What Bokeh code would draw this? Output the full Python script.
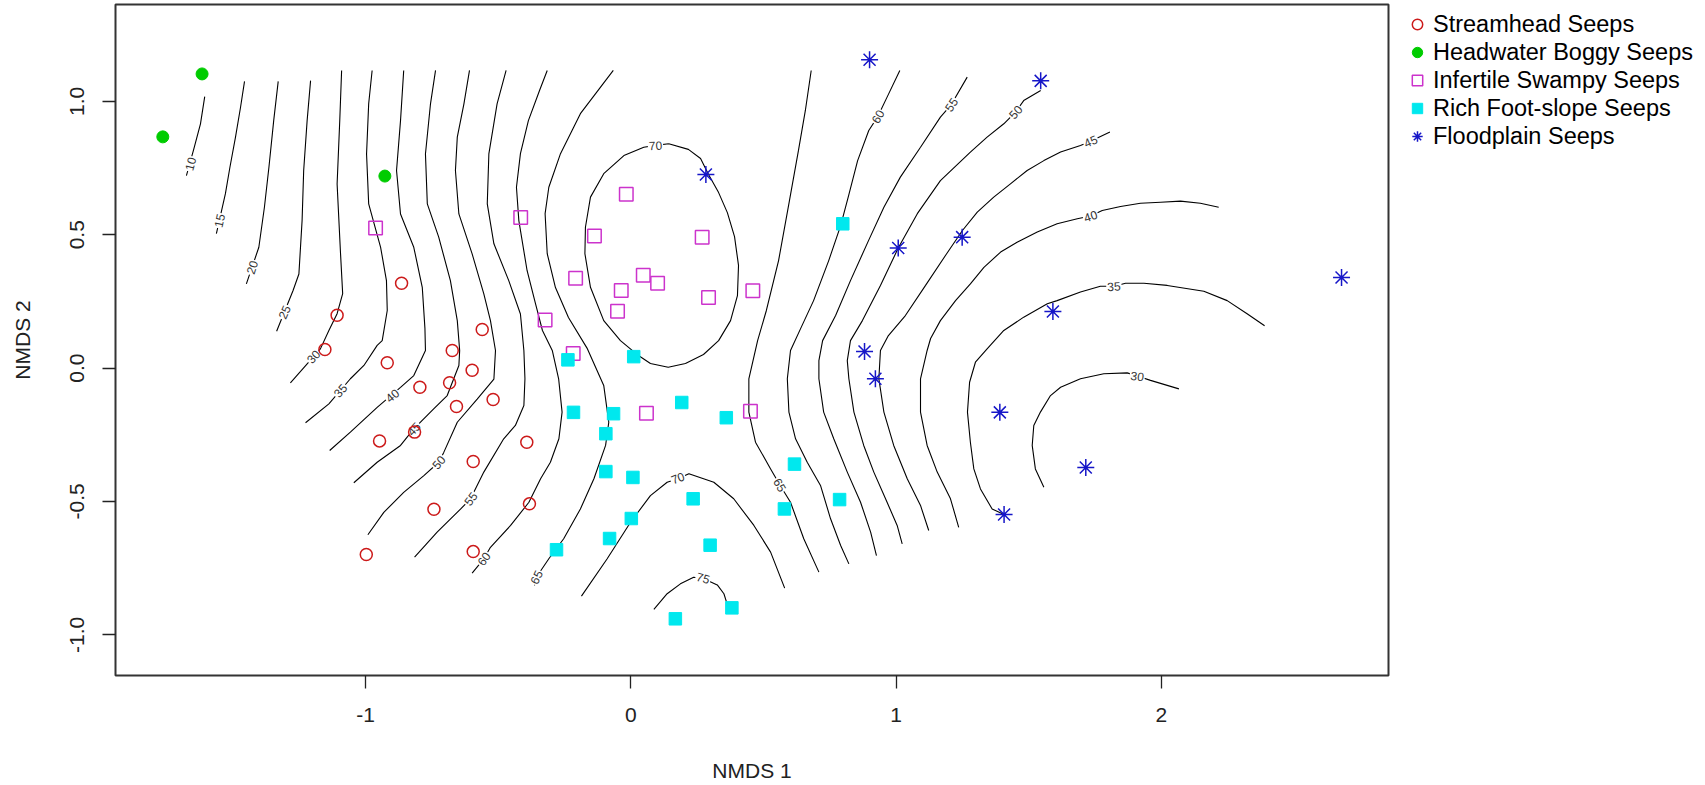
from bokeh.plotting import figure
from bokeh.models import Range1d, FixedTicker, Legend, LegendItem
from bokeh.layouts import row
from bokeh.embed import file_html
from bokeh.resources import INLINE
from bokeh.core.properties import value

# ---------------- site scores (NMDS 1, NMDS 2) ----------------
streamhead_x = [-1.107, -0.864, -1.153, -0.560, -0.918, -0.673, -0.598, -0.795, -0.683, -0.657,
                -0.519, -0.947, -0.815, -0.594, -0.392, -0.742, -0.382, -0.997, -0.594]
streamhead_y = [0.198, 0.318, 0.070, 0.145, 0.020, 0.066, -0.008, -0.072, -0.055, -0.144,
                -0.118, -0.273, -0.240, -0.350, -0.278, -0.529, -0.509, -0.699, -0.688]

headwater_x = [-1.616, -1.764, -0.927]
headwater_y = [1.103, 0.867, 0.720]

infertile_x = [-0.962, -0.415, -0.017, -0.137, 0.269, -0.208, 0.047, 0.101, -0.036, 0.293,
               0.460, -0.050, -0.323, -0.217, 0.059, 0.451]
infertile_y = [0.525, 0.565, 0.652, 0.495, 0.491, 0.337, 0.348, 0.318, 0.291, 0.265,
               0.290, 0.213, 0.180, 0.055, -0.169, -0.162]

rich_x = [0.799, -0.237, 0.011, -0.216, -0.065, 0.192, 0.360, -0.094, 0.617, -0.094,
          0.008, 0.235, 0.787, 0.579, 0.002, -0.080, -0.280, 0.299, 0.381, 0.168]
rich_y = [0.541, 0.031, 0.043, -0.166, -0.171, -0.129, -0.186, -0.246, -0.360, -0.388,
          -0.410, -0.490, -0.493, -0.528, -0.564, -0.639, -0.681, -0.664, -0.899, -0.940]

flood_x = [0.900, 1.545, 0.283, 1.008, 1.249, 2.679, 1.591, 0.881, 0.922, 1.391, 1.715, 1.407]
flood_y = [1.156, 1.077, 0.726, 0.450, 0.491, 0.340, 0.212, 0.062, -0.040, -0.166, -0.373, -0.549]

legend_labels = ["Streamhead Seeps", "Headwater Boggy Seeps", "Infertile Swampy Seeps",
                 "Rich Foot-slope Seeps", "Floodplain Seeps"]

# ---------------- fitted surface contours (traced) ----------------
c10_x = [-1.606, -1.622, -1.647, -1.675]
c10_y = [1.018, 0.916, 0.822, 0.722]
c15_x = [-1.456, -1.471, -1.490, -1.511, -1.528, -1.562]
c15_y = [1.075, 0.978, 0.866, 0.753, 0.654, 0.504]
c20_x = [-1.329, -1.346, -1.364, -1.381, -1.402, -1.449]
c20_y = [1.075, 0.928, 0.753, 0.603, 0.453, 0.316]
c25_x = [-1.207, -1.220, -1.233, -1.239, -1.251, -1.273, -1.335]
c25_y = [1.078, 0.928, 0.741, 0.553, 0.353, 0.291, 0.138]
c30_x = [-1.090, -1.097, -1.107, -1.094, -1.086, -1.107, -1.138, -1.170, -1.283]
c30_y = [1.116, 0.928, 0.690, 0.428, 0.279, 0.204, 0.141, 0.072, -0.055]
c35_x = [-0.975, -0.988, -0.996, -0.988, -0.943, -0.921, -0.918, -0.937, -0.956, -1.006, -1.057, -1.138, -1.226]
c35_y = [1.116, 0.991, 0.803, 0.616, 0.453, 0.328, 0.216, 0.103, 0.085, 0.010, -0.040, -0.134, -0.205]
c40_x = [-0.856, -0.868, -0.883, -0.868, -0.818, -0.786, -0.776, -0.774, -0.818, -0.868, -0.956, -1.057, -1.135]
c40_y = [1.116, 0.928, 0.741, 0.578, 0.453, 0.303, 0.150, 0.066, -0.028, -0.072, -0.147, -0.240, -0.309]
c45_x = [-0.736, -0.755, -0.774, -0.767, -0.724, -0.680, -0.654, -0.645, -0.648, -0.692, -0.743, -0.818, -0.868, -0.956, -1.044]
c45_y = [1.116, 0.991, 0.803, 0.616, 0.491, 0.328, 0.178, 0.066, 0.010, -0.103, -0.153, -0.228, -0.290, -0.353, -0.430]
c50_x = [-0.608, -0.629, -0.654, -0.661, -0.648, -0.598, -0.554, -0.529, -0.510, -0.516, -0.579, -0.654, -0.705, -0.724, -0.780, -0.856, -0.931, -0.991]
c50_y = [1.116, 0.991, 0.866, 0.741, 0.578, 0.428, 0.278, 0.178, 0.066, -0.041, -0.116, -0.203, -0.316, -0.353, -0.403, -0.466, -0.541, -0.625]
c55_x = [-0.470, -0.504, -0.535, -0.541, -0.516, -0.460, -0.416, -0.403, -0.399, -0.403, -0.435, -0.479, -0.554, -0.604, -0.642, -0.730, -0.815]
c55_y = [1.116, 0.991, 0.803, 0.616, 0.466, 0.328, 0.203, 0.066, -0.040, -0.140, -0.215, -0.265, -0.390, -0.490, -0.529, -0.615, -0.709]
c60_x = [-0.315, -0.344, -0.386, -0.416, -0.431, -0.422, -0.391, -0.359, -0.333, -0.296, -0.272, -0.259, -0.271, -0.303, -0.340, -0.384, -0.453, -0.529, -0.554, -0.598]
c60_y = [1.116, 1.041, 0.928, 0.804, 0.678, 0.553, 0.366, 0.241, 0.141, 0.066, -0.040, -0.165, -0.265, -0.353, -0.415, -0.503, -0.590, -0.672, -0.715, -0.769]
c65a_x = [-0.066, -0.190, -0.265, -0.309, -0.323, -0.315, -0.284, -0.235, -0.165, -0.102, -0.083, -0.095, -0.139, -0.190, -0.253, -0.309, -0.356, -0.363]
c65a_y = [1.116, 0.954, 0.804, 0.678, 0.579, 0.429, 0.302, 0.190, 0.075, -0.065, -0.203, -0.290, -0.415, -0.528, -0.640, -0.715, -0.784, -0.815]
c70a_x = [0.143, 0.217, 0.263, 0.293, 0.331, 0.364, 0.391, 0.406, 0.402, 0.376, 0.331, 0.274, 0.206, 0.141, 0.074, 0.029,
          -0.039, -0.102, -0.152, -0.173, -0.171, -0.152, -0.102, -0.026, 0.049, 0.093, 0.143]
c70a_y = [0.841, 0.820, 0.786, 0.726, 0.658, 0.583, 0.493, 0.385, 0.272, 0.178, 0.103, 0.051, 0.017, 0.003, 0.017, 0.047,
          0.103, 0.178, 0.303, 0.429, 0.528, 0.641, 0.729, 0.797, 0.828, 0.835, 0.841]
c70b_x = [-0.186, -0.089, -0.001, 0.074, 0.137, 0.177, 0.219, 0.313, 0.388, 0.464, 0.527, 0.580]
c70b_y = [-0.855, -0.715, -0.578, -0.478, -0.428, -0.415, -0.396, -0.428, -0.490, -0.590, -0.690, -0.825]
c75_x = [0.087, 0.137, 0.187, 0.237, 0.273, 0.326, 0.351, 0.363]
c75_y = [-0.905, -0.846, -0.809, -0.784, -0.789, -0.813, -0.846, -0.884]
c65b_x = [0.680, 0.658, 0.632, 0.598, 0.557, 0.511, 0.478, 0.445, 0.445, 0.470, 0.527, 0.562, 0.602, 0.652, 0.709]
c65b_y = [1.116, 0.966, 0.816, 0.628, 0.403, 0.216, 0.103, -0.040, -0.165, -0.278, -0.378, -0.438, -0.503, -0.640, -0.765]
c60b_x = [1.014, 0.966, 0.931, 0.897, 0.855, 0.821, 0.791, 0.746, 0.689, 0.640, 0.602, 0.590, 0.596, 0.621, 0.665, 0.715, 0.753, 0.791, 0.822]
c60b_y = [1.116, 1.016, 0.943, 0.891, 0.778, 0.647, 0.534, 0.403, 0.253, 0.148, 0.066, -0.040, -0.165, -0.265, -0.353, -0.440, -0.565, -0.665, -0.734]
c55b_x = [1.268, 1.208, 1.167, 1.092, 1.016, 0.954, 0.896, 0.828, 0.772, 0.723, 0.709, 0.709, 0.727, 0.765, 0.816, 0.866, 0.904, 0.926]
c55b_y = [1.091, 0.988, 0.941, 0.828, 0.716, 0.603, 0.478, 0.328, 0.197, 0.103, 0.028, -0.040, -0.165, -0.265, -0.390, -0.503, -0.615, -0.703]
c50b_x = [1.545, 1.481, 1.450, 1.406, 1.343, 1.280, 1.167, 1.080, 1.008, 0.941, 0.873, 0.828, 0.816, 0.822, 0.841, 0.878, 0.916, 0.966, 1.004, 1.023]
c50b_y = [1.041, 1.003, 0.960, 0.916, 0.866, 0.810, 0.703, 0.579, 0.450, 0.310, 0.178, 0.103, 0.028, -0.040, -0.165, -0.290, -0.390, -0.503, -0.590, -0.659]
c45b_x = [1.806, 1.733, 1.695, 1.620, 1.557, 1.494, 1.431, 1.368, 1.306, 1.250, 1.186, 1.111, 1.035, 0.971, 0.941, 0.935, 0.954, 0.991, 1.042, 1.092, 1.123]
c45b_y = [0.885, 0.851, 0.835, 0.810, 0.778, 0.741, 0.691, 0.641, 0.585, 0.516, 0.422, 0.310, 0.197, 0.122, 0.066, -0.040, -0.165, -0.290, -0.415, -0.515, -0.609]
c40b_x = [2.216, 2.147, 2.072, 1.997, 1.921, 1.846, 1.777, 1.733, 1.683, 1.607, 1.532, 1.456, 1.394, 1.331, 1.280, 1.224, 1.167, 1.130, 1.117, 1.092, 1.092, 1.117, 1.155, 1.205, 1.236]
c40b_y = [0.603, 0.618, 0.626, 0.622, 0.618, 0.606, 0.591, 0.570, 0.560, 0.541, 0.510, 0.472, 0.435, 0.378, 0.316, 0.253, 0.178, 0.111, 0.066, -0.040, -0.165, -0.290, -0.390, -0.490, -0.597]
c35b_x = [2.389, 2.323, 2.248, 2.160, 2.022, 1.934, 1.865, 1.821, 1.770, 1.695, 1.607, 1.570, 1.481, 1.406, 1.343, 1.299, 1.277, 1.269, 1.280, 1.293, 1.318, 1.362, 1.407]
c35b_y = [0.159, 0.204, 0.253, 0.288, 0.310, 0.318, 0.318, 0.307, 0.307, 0.285, 0.253, 0.241, 0.191, 0.141, 0.072, 0.022, -0.053, -0.165, -0.278, -0.378, -0.453, -0.528, -0.549]
c30b_x = [2.066, 1.959, 1.909, 1.871, 1.783, 1.695, 1.620, 1.582, 1.544, 1.519, 1.513, 1.525, 1.557]
c30b_y = [-0.078, -0.046, -0.030, -0.018, -0.021, -0.040, -0.072, -0.103, -0.165, -0.215, -0.290, -0.378, -0.447]

contour_xs = [c10_x, c15_x, c20_x, c25_x, c30_x, c35_x, c40_x, c45_x, c50_x, c55_x, c60_x, c65a_x,
              c70a_x, c70b_x, c75_x, c65b_x, c60b_x, c55b_x, c50b_x, c45b_x, c40b_x, c35b_x, c30b_x]
contour_ys = [c10_y, c15_y, c20_y, c25_y, c30_y, c35_y, c40_y, c45_y, c50_y, c55_y, c60_y, c65a_y,
              c70a_y, c70b_y, c75_y, c65b_y, c60b_y, c55b_y, c50b_y, c45b_y, c40b_y, c35b_y, c30b_y]

# contour labels
lab_text = ["10", "15", "20", "25", "30", "35", "40", "45", "50", "55", "60", "65",
            "70", "70", "75", "65", "60", "55", "50", "45", "40", "35", "30"]
lab_x = [-1.660, -1.551, -1.428, -1.306, -1.196, -1.095, -0.899, -0.818, -0.724, -0.604, -0.554, -0.356,
         0.093, 0.177, 0.273, 0.562, 0.931, 1.208, 1.450, 1.733, 1.733, 1.821, 1.909]
lab_y = [0.766, 0.553, 0.378, 0.210, 0.043, -0.084, -0.103, -0.228, -0.353, -0.490, -0.715, -0.784,
         0.835, -0.412, -0.787, -0.438, 0.943, 0.988, 0.960, 0.851, 0.570, 0.307, -0.030]
lab_angle = [75, 77, 72, 66, 48, 49, 40, 47, 49, 53, 55, 65,
             3, 21, -16, -60, 61, 56, 49, 24, 18, 4, -8]

FONT = "Liberation Sans"

# marker styles per group
styles = [
    dict(marker="circle", size=12, fill_alpha=0, line_color="#CC1A1A", line_width=1.5),
    dict(marker="circle", size=12, fill_color="#00CC00", line_color="#00CC00"),
    dict(marker="square", size=13.5, fill_alpha=0, line_color="#CC33CC", line_width=1.5),
    dict(marker="square", size=12.5, fill_color="#00E8EE", line_color="#00E8EE"),
    dict(marker="asterisk", size=17, line_color="#1616C8", line_width=1.5),
]
groups = [(streamhead_x, streamhead_y), (headwater_x, headwater_y), (infertile_x, infertile_y),
          (rich_x, rich_y), (flood_x, flood_y)]

p = figure(width=1390, height=785,
           x_range=Range1d(-1.9423, 2.8560), y_range=Range1d(-1.1526, 1.3633),
           output_backend="svg", toolbar_location=None,
           min_border_left=115, min_border_right=2, min_border_top=4, min_border_bottom=110)
p.background_fill_color = "white"
p.border_fill_color = "white"
p.grid.visible = False
p.outline_line_color = "#333333"
p.outline_line_width = 2

# contours
p.multi_line(xs=contour_xs, ys=contour_ys, line_color="black", line_width=1.1)
p.text(x=lab_x, y=lab_y, text=lab_text, angle=lab_angle, angle_units="deg",
       text_align="center", text_baseline="middle", text_font=value(FONT),
       text_font_size="12px", text_color="#333333",
       background_fill_color="white", padding=1)

# points
for (gx, gy), st in zip(groups, styles):
    p.scatter(gx, gy, **st)

# axes
for ax in (p.xaxis[0], p.yaxis[0]):
    ax.axis_line_color = None
    ax.major_tick_in = 0
    ax.major_tick_out = 13
    ax.major_tick_line_color = "#222222"
    ax.major_tick_line_width = 1.3
    ax.minor_tick_line_color = None
    ax.major_label_text_font = FONT
    ax.major_label_text_font_size = "21px"
    ax.major_label_text_color = "#222222"
    ax.axis_label_text_font = FONT
    ax.axis_label_text_font_size = "21px"
    ax.axis_label_text_font_style = "normal"
    ax.axis_label_text_color = "#222222"

p.xaxis.ticker = FixedTicker(ticks=[-1, 0, 1, 2])
p.xaxis.major_label_overrides = {-1: "-1", 0: "0", 1: "1", 2: "2"}
p.xaxis.axis_label = "NMDS 1"
p.xaxis.major_label_standoff = 19
p.xaxis.axis_label_standoff = 34

p.yaxis.ticker = FixedTicker(ticks=[-1.0, -0.5, 0.0, 0.5, 1.0])
p.yaxis.major_label_overrides = {-1: "-1.0", -0.5: "-0.5", 0: "0.0", 0.5: "0.5", 1: "1.0"}
p.yaxis.major_label_orientation = "vertical"
p.yaxis.axis_label = "NMDS 2"
p.yaxis.major_label_standoff = 18
p.yaxis.axis_label_standoff = 34

# legend panel (outside the plotting box, like R's legend(xpd=TRUE));
# its range is far from the site scores so only the legend keys are visible
q = figure(width=310, height=785, x_range=Range1d(1000, 1310), y_range=Range1d(1000, 1785),
           output_backend="svg", toolbar_location=None,
           x_axis_location=None, y_axis_location=None,
           min_border_left=0, min_border_right=0, min_border_top=0, min_border_bottom=0)
q.grid.visible = False
q.outline_line_color = None
q.background_fill_color = "white"
q.border_fill_color = "white"
keys = [q.scatter(x=gx[:1], y=gy[:1], **st) for (gx, gy), st in zip(groups, styles)]
legend = Legend(items=[LegendItem(label=t, renderers=[r]) for t, r in zip(legend_labels, keys)],
                location=(14, 525), padding=0, margin=0, spacing=0,
                glyph_width=26, glyph_height=28, label_height=28, label_standoff=3,
                label_text_font=FONT, label_text_font_size="23.5px", label_text_color="black",
                border_line_color=None, background_fill_alpha=0)
q.add_layout(legend)

open("out.html", "w").write(file_html(row(p, q), INLINE))
